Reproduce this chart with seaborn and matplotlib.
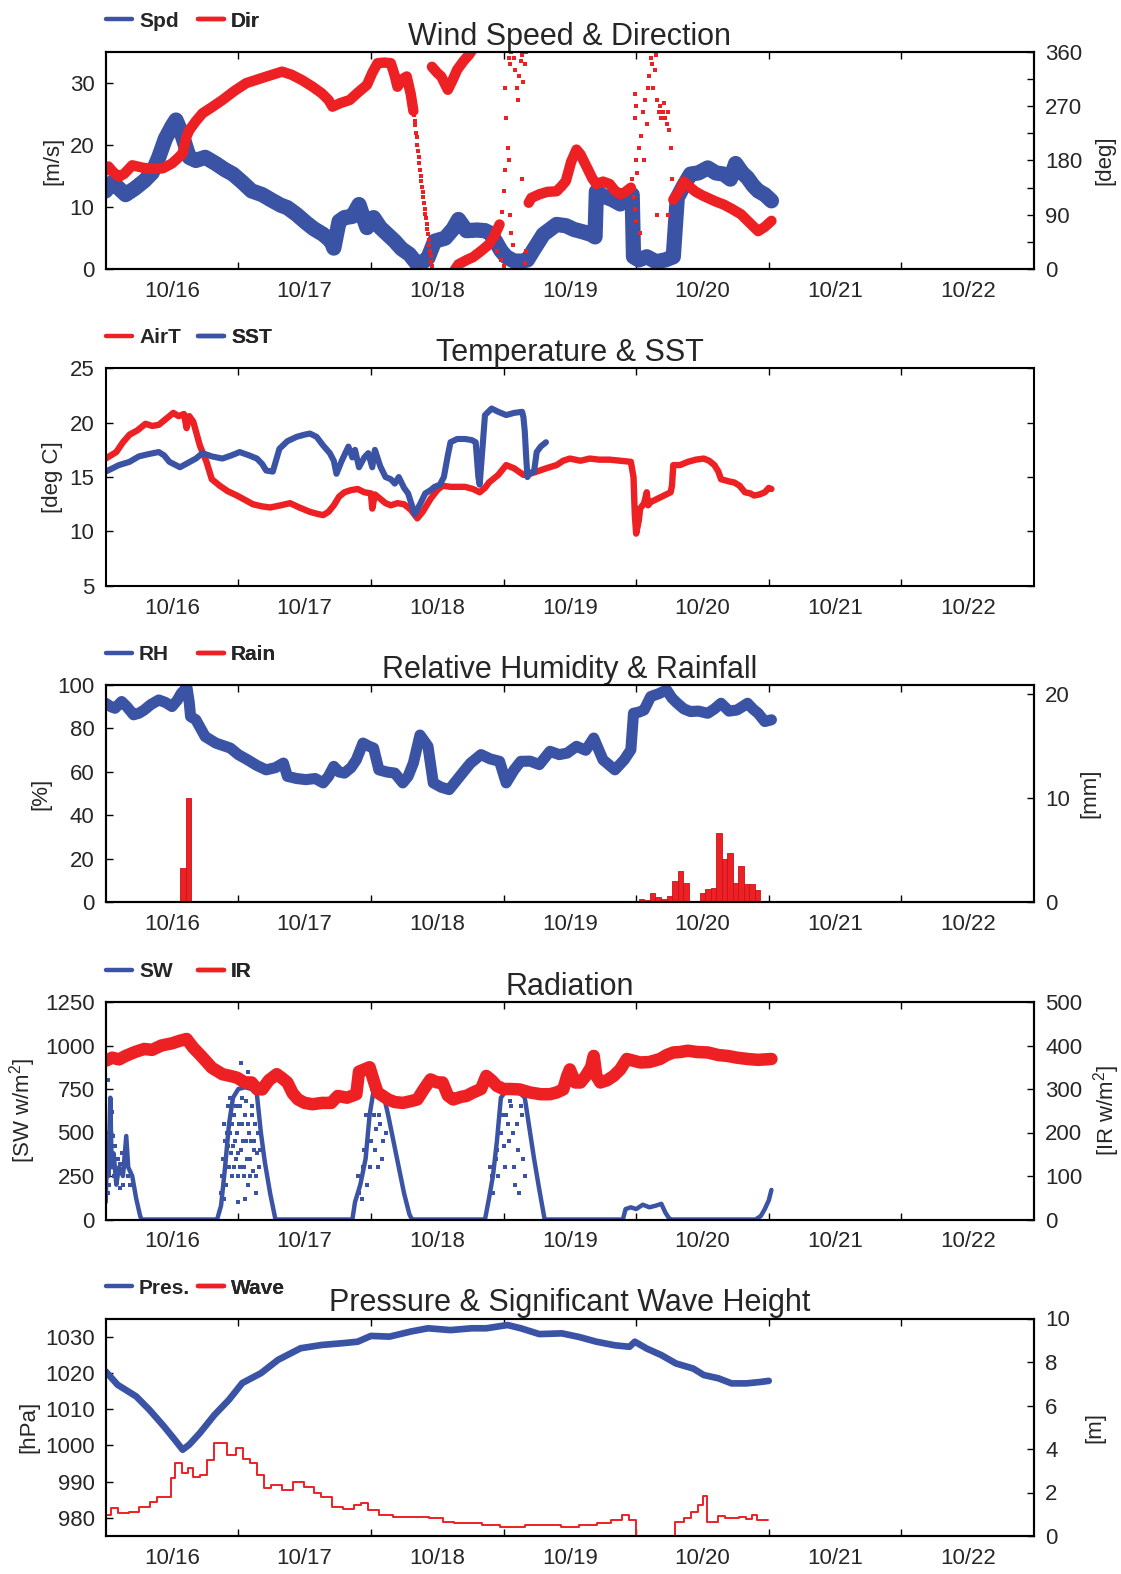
import numpy as np
import pandas as pd
import matplotlib
matplotlib.use("Agg")
import matplotlib.pyplot as plt
import seaborn as sns
from matplotlib.lines import Line2D

nan = np.nan

# ---------------- data ----------------
day_labels = ["10/16", "10/17", "10/18", "10/19", "10/20", "10/21", "10/22"]

# Panel 1: wind speed (m/s) and direction (deg); x = days from left edge
spd_day = [0.00, 0.05, 0.10, 0.15, 0.22, 0.29, 0.35, 0.40, 0.45, 0.50,
           0.53, 0.57, 0.60, 0.63, 0.68, 0.75, 0.83, 0.90, 0.96, 1.03,
           1.10, 1.18, 1.26, 1.32, 1.37, 1.44, 1.51, 1.57, 1.64, 1.70,
           1.72, 1.76, 1.80, 1.86, 1.91, 1.94, 1.97, 2.02, 2.07, 2.13,
           2.18, 2.23, 2.29, 2.35, 2.40, 2.43, 2.48, 2.56, 2.62, 2.66,
           2.72, 2.80, 2.86, 2.90, 2.94, 2.98, 3.02, 3.08, 3.14, 3.18,
           3.22, 3.30, 3.40, 3.47, 3.53, 3.60, 3.66, 3.69, 3.70, 3.75,
           3.82, 3.88, 3.93, 3.97, 3.98, 4.02, 4.08, 4.15, 4.22, 4.28,
           4.31, 4.36, 4.41, 4.47, 4.54, 4.60, 4.66, 4.71, 4.75, 4.80,
           4.84, 4.88, 4.92, 4.97, 5.02]
spd_ms = [12.6, 14, 13, 12, 13, 14.2, 15.5, 18, 21, 23,
          24, 22, 20, 18, 17.5, 18, 17, 16, 15.3, 14,
          12.6, 12, 11, 10.3, 9.9, 8.8, 7.5, 6.5, 5.6, 4.5,
          3.4, 7.7, 8.3, 8.5, 10.4, 8.5, 6.7, 8.3, 6.7, 5.5,
          4.5, 3.3, 2.4, 0.8, 1.3, 1.8, 4.5, 5.0, 6.5, 8.0,
          6.2, 6.3, 6.2, 5.8, 4.5, 3.0, 2.0, 1.3, 1.3, 1.5,
          2.9, 5.6, 7.2, 7.0, 6.4, 6.0, 5.6, 5.2, 12.5, 11.8,
          11.2, 10.5, 11.5, 12, 2, 1.5, 2, 1.2, 1.5, 2,
          11.5, 13.5, 15.3, 15.5, 16.3, 15.5, 15.3, 14.5, 17.0, 15.5,
          14.7, 13.5, 12.6, 12.0, 11.0]

# direction, continuous segments separated by nan (wrap-around at 0/360)
dir_day = [0.00, 0.02, 0.06, 0.10, 0.14, 0.20, 0.28, 0.36, 0.43, 0.50,
           0.55, 0.58, 0.61, 0.63, 0.68, 0.73, 0.80, 0.88, 0.97, 1.06,
           1.20, 1.33, 1.40, 1.48, 1.56, 1.63, 1.68, 1.71, 1.77, 1.84,
           1.90, 1.97, 2.01, 2.05, 2.10, 2.15, 2.18, 2.20, 2.24, 2.27,
           2.30, 2.32, nan,
           2.46, 2.50, 2.53, 2.58, 2.62, 2.65, 2.70, 2.74, 2.78, nan,
           2.62, 2.66, 2.72, 2.77, 2.83, 2.89, 2.93, 2.97, nan,
           3.19, 3.21, 3.27, 3.33, 3.40, 3.44, 3.47, 3.51, 3.55, 3.58,
           3.63, 3.67, 3.70, 3.75, 3.80, 3.84, 3.88, 3.92, 3.96, nan,
           4.28, 4.33, 4.36, 4.41, 4.45, 4.50, 4.54, 4.60, 4.66, 4.72,
           4.79, 4.85, 4.92, 4.97, 5.02]
dir_deg = [163, 170, 160, 153, 158, 172, 168, 166, 167, 175,
           185, 192, 220, 230, 245, 258, 268, 280, 295, 308,
           318, 327, 322, 313, 302, 291, 280, 269, 275, 280,
           292, 305, 325, 341, 342, 341, 320, 302, 315, 319,
           290, 262, nan,
           335, 325, 319, 297, 315, 330, 345, 355, 368, nan,
           -5, 8, 15, 20, 30, 41, 55, 74, nan,
           110, 118, 124, 128, 129, 138, 146, 178, 198, 190,
           168, 150, 141, 145, 141, 130, 124, 128, 135, nan,
           115, 130, 145, 135, 128, 122, 118, 112, 107, 100,
           91, 78, 63, 70, 80]
# isolated scattered direction samples
dir_sc_day = [2.325, 2.33, 2.335, 2.34, 2.345, 2.35, 2.355, 2.36, 2.365, 2.37,
              2.375, 2.38, 2.385, 2.39, 2.395, 2.40, 2.405, 2.41, 2.415, 2.42,
              2.425, 2.43, 2.435, 2.44, 2.445, 2.45, 2.455, 2.46,
              2.95, 2.98, 3.00, 3.01, 3.02, 3.03, 3.04, 3.04, 3.05, 3.05,
              3.06, 3.06, 3.07, 3.08, 3.09, 3.10, 3.11, 3.12, 3.13, 3.14,
              3.14, 3.15, 3.16, 3.16, 3.17, 3.17, 2.99, 3.00, 3.01,
              3.97, 3.98, 3.99, 3.99, 3.99, 4.00, 4.00, 4.00, 4.01, 4.02,
              4.03, 4.04, 4.05, 4.06, 4.07, 4.08, 4.09, 4.10, 4.11, 4.12,
              4.13, 4.14, 4.15, 4.16, 4.16, 4.17, 4.18, 4.19, 4.20, 4.21,
              4.22, 4.23, 4.24, 4.24, 4.25, 4.26, 4.27]
dir_sc_deg = [255, 245, 238, 226, 218, 205, 196, 185, 175, 164,
              155, 146, 136, 128, 120, 110, 100, 92, 84, 75,
              66, 58, 48, 40, 30, 22, 12, 5,
              30, 15, 5, 300, 250, 200, 180, 350, 90, 340,
              60, 360, 40, 350, 330, 300, 280, 320, 345, 355,
              150, 310, 340, 10, 360, 30, 95, 130, 165,
              150, 120, 100, 290, 250, 80, 180, 270, 160, 200,
              60, 220, 260, 180, 280, 240, 300, 320, 350, 340,
              300, 330, 355, 280, 90, 260, 270, 250, 260, 275,
              250, 240, 260, 90, 230, 200, 150]

# Panel 2: air temperature and SST (deg C)
airt_day = [0.00, 0.04, 0.08, 0.13, 0.18, 0.24, 0.30, 0.35, 0.40, 0.45,
            0.51, 0.55, 0.59, 0.61, 0.63, 0.66, 0.71, 0.76, 0.80, 0.86,
            0.92, 0.99, 1.05, 1.11, 1.18, 1.24, 1.32, 1.39, 1.46, 1.54,
            1.60, 1.64, 1.68, 1.72, 1.76, 1.80, 1.85, 1.90, 1.95, 2.00,
            2.01, 2.03, 2.07, 2.11, 2.15, 2.20, 2.25, 2.30, 2.35, 2.39,
            2.45, 2.50, 2.54, 2.60, 2.65, 2.71, 2.77, 2.82, 2.86, 2.89,
            2.96, 3.02, 3.08, 3.15, 3.20, 3.25, 3.32, 3.40, 3.45, 3.50,
            3.58, 3.65, 3.72, 3.80, 3.88, 3.96, 3.98, 3.99, 4.00, 4.02,
            4.03, 4.06, 4.08, 4.09, 4.11, 4.16, 4.21, 4.26, 4.27, 4.28,
            4.33, 4.39, 4.45, 4.51, 4.55, 4.59, 4.62, 4.64, 4.70, 4.74,
            4.78, 4.82, 4.86, 4.89, 4.93, 4.97, 5.00, 5.02]
airt_c = [16.7, 17.0, 17.3, 18.2, 18.9, 19.3, 19.9, 19.7, 19.8, 20.3,
          20.9, 20.6, 20.8, 19.5, 20.6, 20.1, 17.9, 16.4, 14.8, 14.2,
          13.7, 13.3, 12.9, 12.5, 12.3, 12.2, 12.4, 12.6, 12.2, 11.8,
          11.6, 11.5, 11.8, 12.4, 13.2, 13.6, 13.8, 13.9, 13.6, 13.5,
          12.1, 13.4, 13.0, 12.6, 12.4, 12.6, 12.5, 12.0, 11.2, 11.8,
          13.0, 13.8, 14.2, 14.1, 14.1, 14.1, 13.9, 13.6, 14.0, 14.5,
          15.2, 16.1, 15.8, 15.2, 15.3, 15.5, 15.8, 16.1, 16.5, 16.7,
          16.5, 16.7, 16.6, 16.6, 16.5, 16.4, 15.0, 11.5, 9.8, 11.0,
          12.1, 12.6, 13.6, 12.4, 12.7, 13.0, 13.3, 13.6, 14.2, 16.1,
          16.1, 16.4, 16.6, 16.7, 16.5, 16.1, 15.5, 14.8, 14.6, 14.5,
          14.2, 13.6, 13.5, 13.3, 13.4, 13.6, 14.0, 13.9]
sst_day = [0.00, 0.05, 0.10, 0.18, 0.25, 0.32, 0.40, 0.44, 0.48, 0.56,
           0.62, 0.68, 0.73, 0.80, 0.88, 0.95, 1.01, 1.08, 1.14, 1.18,
           1.21, 1.26, 1.31, 1.37, 1.44, 1.50, 1.54, 1.59, 1.64, 1.69,
           1.72, 1.74, 1.78, 1.83, 1.86, 1.88, 1.91, 1.95, 1.98, 2.01,
           2.03, 2.07, 2.11, 2.15, 2.18, 2.21, 2.25, 2.28, 2.33, 2.37,
           2.41, 2.45, 2.48, 2.52, 2.55, 2.58, 2.60, 2.65, 2.71, 2.76,
           2.79, 2.81, 2.82, 2.84, 2.86, 2.91, 2.96, 3.02, 3.08, 3.14,
           3.15, 3.16, 3.17, 3.18, 3.20, 3.23, 3.25, 3.28, 3.32]
sst_c = [15.5, 15.8, 16.1, 16.4, 16.9, 17.1, 17.3, 17.0, 16.4, 15.9,
         16.3, 16.7, 17.2, 16.9, 16.7, 17.0, 17.3, 17.0, 16.7, 16.2,
         15.6, 15.5, 17.6, 18.3, 18.7, 18.9, 19.0, 18.7, 17.9, 17.2,
         16.5, 15.3, 16.5, 17.8, 16.8, 17.5, 15.9, 16.8, 17.2, 15.9,
         17.5, 16.0, 15.0, 14.8, 14.4, 15.0, 14.0, 13.5, 11.6, 12.5,
         13.5, 13.8, 14.1, 14.3, 15.0, 17.0, 18.2, 18.5, 18.5, 18.4,
         18.2, 15.0, 14.3, 17.5, 20.7, 21.3, 21.0, 20.7, 20.9, 21.0,
         20.5, 19.2, 17.0, 15.0, 15.4, 15.5, 17.3, 17.8, 18.2]

# Panel 3: relative humidity (%) and hourly rainfall (mm)
rh_day = [0.00, 0.04, 0.07, 0.12, 0.16, 0.21, 0.25, 0.29, 0.34, 0.40,
          0.45, 0.50, 0.54, 0.57, 0.60, 0.61, 0.63, 0.64, 0.68, 0.75,
          0.83, 0.94, 1.00, 1.07, 1.14, 1.21, 1.28, 1.34, 1.37, 1.44,
          1.51, 1.58, 1.64, 1.68, 1.72, 1.76, 1.80, 1.85, 1.89, 1.94,
          1.98, 2.02, 2.06, 2.12, 2.18, 2.24, 2.28, 2.32, 2.37, 2.43,
          2.47, 2.53, 2.59, 2.67, 2.75, 2.83, 2.90, 2.97, 3.02, 3.08,
          3.13, 3.20, 3.27, 3.35, 3.42, 3.48, 3.55, 3.62, 3.68, 3.75,
          3.84, 3.91, 3.96, 3.98, 4.02, 4.06, 4.11, 4.17, 4.23, 4.27,
          4.31, 4.36, 4.41, 4.47, 4.54, 4.59, 4.64, 4.70, 4.76, 4.80,
          4.84, 4.88, 4.92, 4.97, 5.02]
rh_pct = [91.6, 90, 89.3, 92.4, 90, 86.3, 87, 88.5, 91, 93.1,
          92, 90.1, 93, 96.2, 98, 100, 92, 85.5, 84, 76.3,
          73.3, 71, 68, 65.6, 63, 61, 62, 64.1, 58, 57,
          56.5, 57, 55, 58, 62.6, 60, 59.5, 62, 65.6, 73.3,
          72, 71, 61, 60, 59.5, 55, 58, 64.1, 77, 71.8,
          55, 53, 51.9, 58, 64, 68, 66, 64.9, 55, 61,
          64.9, 65, 63.4, 69.5, 68, 68.7, 71.8, 70, 75.6, 65.6,
          61, 65.6, 70.2, 87, 87.5, 88.5, 94.7, 96, 97.7, 94,
          91.6, 89, 87.8, 88, 87, 89, 91.6, 88, 88.5, 90,
          91.6, 89, 87, 83.2, 84]
rain_day = [0.583, 0.625, 4.042, 4.083, 4.125, 4.167, 4.208, 4.250, 4.292, 4.333,
            4.375, 4.500, 4.542, 4.583, 4.625, 4.667, 4.708, 4.750, 4.792, 4.833,
            4.875, 4.917]
rain_mm = [3.3, 10.0, 0.3, 0.2, 0.9, 0.5, 0.3, 0.6, 2.1, 3.0,
           1.9, 0.9, 1.3, 1.4, 6.7, 4.2, 4.8, 1.9, 3.5, 1.8,
           1.8, 1.2]

# Panel 4: shortwave (W/m2) and infrared (W/m2)
sw_day = [0.00, 0.01, 0.02, 0.035, 0.045, 0.06, 0.08, 0.10, 0.13, 0.155,
          0.17, 0.20, 0.23, 0.26, 0.27, 0.84, 0.87, 0.90, 0.93, 0.96,
          1.00, 1.05, 1.10, 1.14, 1.17, 1.20, 1.24, 1.28, 1.86, 1.88,
          1.92, 1.96, 1.99, 2.02, 2.06, 2.10, 2.13, 2.17, 2.21, 2.25,
          2.29, 2.31, 2.86, 2.89, 2.92, 2.95, 2.98, 3.02, 3.07, 3.12,
          3.16, 3.19, 3.23, 3.27, 3.31, 3.90, 3.92, 3.96, 4.00, 4.05,
          4.10, 4.15, 4.19, 4.22, 4.25, 4.27, 4.90, 4.94, 4.97, 5.00,
          5.02]
sw_wm2 = [100, 380, 250, 700, 300, 380, 200, 300, 250, 480,
          300, 250, 120, 20, 0, 0, 80, 300, 550, 700,
          750, 760, 750, 720, 500, 330, 150, 0, 0, 100,
          200, 350, 600, 740, 720, 700, 600, 450, 300, 150,
          30, 0, 0, 120, 250, 450, 700, 740, 740, 730,
          700, 550, 350, 170, 0, 0, 60, 70, 60, 85,
          70, 80, 90, 40, 5, 0, 0, 20, 60, 110,
          170]
sw_sc_day = [0.015, 0.02, 0.025, 0.03, 0.04, 0.05, 0.06, 0.07, 0.09, 0.11,
             0.12, 0.14, 0.16, 0.18, 0.88, 0.89, 0.90, 0.91, 0.92, 0.93,
             0.94, 0.95, 0.95, 0.96, 0.97, 0.98, 0.99, 1.00, 1.00, 1.01,
             1.02, 1.02, 1.03, 1.04, 1.05, 1.05, 1.06, 1.07, 1.07, 1.08,
             1.09, 1.10, 1.11, 1.12, 1.13, 1.14, 1.90, 1.93, 1.95, 1.96,
             1.97, 1.99, 2.00, 2.01, 2.02, 2.04, 2.05, 2.07, 2.09, 2.90,
             2.92, 2.94, 2.96, 2.98, 3.00, 3.02, 3.04, 3.05, 3.06, 3.08,
             3.09, 3.10, 3.12, 3.14, 3.16,
             0.87, 0.885, 0.895, 0.905, 0.915, 0.925, 0.935, 0.945, 0.955, 0.965,
             0.975, 0.985, 0.995, 1.005, 1.015, 1.025, 1.035, 1.045, 1.055, 1.065,
             1.075, 1.085, 1.095, 1.105, 1.115, 1.125, 1.135, 1.145, 1.155, 1.165,
             1.91, 1.94, 1.98, 2.00, 2.03, 2.06, 2.08, 2.11,
             2.91, 2.95, 2.99, 3.01, 3.03, 3.07, 3.11, 3.13, 3.15,
             0.01, 0.035, 0.055, 0.065, 0.085, 0.105, 0.13, 0.15, 0.165]
sw_sc_wm2 = [150, 800, 200, 550, 450, 620, 250, 420, 350, 180,
             380, 300, 350, 200, 250, 120, 450, 200, 650, 300,
             500, 250, 800, 420, 600, 350, 500, 250, 100, 650,
             400, 900, 550, 300, 600, 120, 450, 200, 850, 500,
             350, 600, 280, 450, 150, 380, 250, 120, 400, 600,
             200, 300, 450, 750, 600, 520, 300, 550, 450, 300,
             150, 350, 250, 500, 420, 600, 450, 680, 650, 300,
             200, 550, 150, 600, 250,
             150, 350, 550, 300, 500, 420, 700, 380, 550, 300,
             450, 650, 380, 550, 300, 700, 450, 250, 680, 350,
             550, 250, 450, 650, 400, 550, 250, 500, 300, 400,
             150, 300, 450, 650, 400, 600, 350, 500,
             250, 400, 600, 300, 550, 500, 400, 650, 350,
             500, 350, 480, 300, 250, 320, 200, 420, 250]
ir_day = [0.00, 0.05, 0.10, 0.15, 0.22, 0.29, 0.35, 0.42, 0.50, 0.56,
          0.61, 0.66, 0.72, 0.80, 0.88, 0.94, 0.99, 1.05, 1.10, 1.14,
          1.18, 1.23, 1.29, 1.33, 1.37, 1.41, 1.45, 1.50, 1.56, 1.63,
          1.70, 1.75, 1.82, 1.89, 1.91, 1.95, 1.99, 2.02, 2.05, 2.10,
          2.13, 2.18, 2.24, 2.30, 2.35, 2.40, 2.45, 2.50, 2.54, 2.58,
          2.62, 2.68, 2.72, 2.77, 2.83, 2.87, 2.91, 2.95, 3.00, 3.05,
          3.12, 3.20, 3.28, 3.35, 3.40, 3.45, 3.48, 3.50, 3.54, 3.58,
          3.62, 3.66, 3.68, 3.70, 3.73, 3.78, 3.83, 3.88, 3.93, 3.98,
          4.03, 4.10, 4.18, 4.23, 4.28, 4.33, 4.39, 4.46, 4.54, 4.62,
          4.69, 4.76, 4.84, 4.92, 5.02]
ir_wm2 = [365, 372, 368, 376, 385, 392, 390, 400, 405, 411,
          415, 395, 376, 349, 334, 330, 326, 315, 315, 300,
          299, 320, 334, 325, 315, 290, 276, 268, 265, 268,
          268, 284, 280, 288, 340, 345, 350, 320, 292, 282,
          276, 270, 268, 272, 276, 300, 322, 315, 315, 285,
          276, 282, 284, 292, 300, 330, 320, 307, 300, 300,
          299, 292, 288, 288, 292, 299, 330, 345, 315, 315,
          330, 350, 376, 330, 315, 320, 330, 345, 369, 365,
          361, 362, 369, 378, 384, 385, 388, 385, 384, 378,
          376, 372, 369, 367, 369]

# Panel 5: pressure (hPa) and significant wave height (m)
pres_day = [0.00, 0.09, 0.23, 0.33, 0.44, 0.52, 0.58, 0.63, 0.71, 0.82,
            0.93, 1.03, 1.17, 1.30, 1.47, 1.63, 1.79, 1.90, 2.00, 2.14,
            2.30, 2.43, 2.60, 2.76, 2.87, 3.03, 3.13, 3.27, 3.44, 3.57,
            3.70, 3.84, 3.95, 3.99, 4.08, 4.19, 4.30, 4.43, 4.51, 4.62,
            4.72, 4.83, 4.94, 5.00]
pres_hpa = [1020.4, 1016.7, 1013.5, 1009.8, 1005.2, 1001.6, 998.8, 1000.2, 1003.4, 1008.4,
            1012.6, 1017.2, 1019.9, 1023.6, 1026.8, 1027.7, 1028.2, 1028.6, 1030.2, 1030.0,
            1031.4, 1032.3, 1031.8, 1032.3, 1032.3, 1033.2, 1032.3, 1030.7, 1030.9, 1029.9,
            1028.6, 1027.6, 1027.2, 1028.6, 1026.7, 1024.9, 1022.6, 1021.2, 1019.4, 1018.5,
            1017.1, 1017.1, 1017.5, 1017.8]
wave_day = [0.000, 0.038, 0.092, 0.172, 0.253, 0.334, 0.388, 0.496, 0.522, 0.576,
            0.617, 0.657, 0.711, 0.765, 0.819, 0.913, 0.980, 1.034, 1.088, 1.142,
            1.196, 1.250, 1.330, 1.411, 1.492, 1.573, 1.627, 1.708, 1.788, 1.869,
            1.923, 1.977, 2.058, 2.165, 2.300, 2.435, 2.542, 2.623, 2.839, 2.973,
            3.162, 3.436, 3.570, 3.705, 3.812, 3.893, 3.946, 4.000, 4.290, 4.362,
            4.416, 4.470, 4.505, 4.537, 4.617, 4.671, 4.779, 4.832, 4.872, 4.913,
            4.993]
wave_m = [0.96, 1.27, 1.04, 1.12, 1.35, 1.58, 1.81, 2.65, 3.37, 2.88,
          3.11, 2.73, 2.80, 3.49, 4.29, 3.72, 4.03, 3.52, 3.34, 2.80,
          2.19, 2.34, 2.11, 2.47, 2.27, 1.96, 1.81, 1.35, 1.23, 1.42,
          1.50, 1.19, 0.96, 0.89, 0.86, 0.81, 0.66, 0.61, 0.51, 0.43,
          0.51, 0.43, 0.50, 0.58, 0.74, 0.96, 0.74, 0.00, 0.66, 0.81,
          1.12, 1.42, 1.84, 0.66, 0.92, 0.84, 0.89, 0.77, 0.96, 0.74,
          0.74]

# ---------------- style ----------------
sns.set_theme(style="ticks")
plt.rcParams["font.family"] = ["Liberation Sans", "DejaVu Sans"]
plt.rcParams["mathtext.fontset"] = "custom"
plt.rcParams["mathtext.rm"] = "Liberation Sans"
plt.rcParams["mathtext.it"] = "Liberation Sans:italic"

BLUE = "#3a53a4"
RED = "#ed2024"
FS = 16

fig = plt.figure(figsize=(11.21, 15.74), dpi=100)
FW, FH = 1121.0, 1574.0
L = 105.7 / FW
W = (1034.0 - 105.7) / FW
AH = 217.5
tops = [51.7, 368.3, 685.0, 1002.0, 1318.5]
axes = [fig.add_axes([L, 1 - (t + AH) / FH, W, AH / FH]) for t in tops]


def style_main(ax, ylim, yticks, ylabel, lab_x, mirror=False):
    ax.set_xlim(0, 7)
    ax.set_ylim(*ylim)
    ax.set_xticks(range(1, 7))
    ax.set_xticklabels([])
    ax.set_xticks([i + 0.5 for i in range(7)], labels=day_labels, minor=True)
    ax.tick_params(axis="x", which="major", direction="in", length=5, width=1,
                   top=True, bottom=True, labelbottom=False, color="black")
    ax.tick_params(axis="x", which="minor", length=0, labelsize=FS, pad=8.5,
                   bottom=True, top=False)
    ax.set_yticks(yticks)
    ax.tick_params(axis="y", which="both", direction="in", length=5, width=1,
                   labelsize=FS, pad=8, left=True, right=mirror, color="black")
    ax.set_xlabel("")
    ax.set_ylabel(ylabel, fontsize=FS)
    ax.yaxis.set_label_coords(lab_x, 0.5)
    for s in ax.spines.values():
        s.set_visible(True)
        s.set_color("black")
        s.set_linewidth(1.5)


def style_twin(ax2, ylim, yticks, yticklabels, ylabel, lab_x):
    ax2.set_xlim(0, 7)
    ax2.set_ylim(*ylim)
    ax2.set_yticks(yticks)
    ax2.set_yticklabels(yticklabels)
    ax2.tick_params(axis="y", direction="in", length=5, width=1, labelsize=FS,
                    pad=8, right=True, left=False, labelright=True, color="black")
    ax2.set_xlabel("")
    ax2.set_ylabel(ylabel, fontsize=FS, rotation=90)
    ax2.yaxis.set_label_coords(lab_x, 0.5)
    for s in ax2.spines.values():
        s.set_visible(True)
        s.set_color("black")
        s.set_linewidth(1.5)


def legend_pair(ax, lab1, c1, lab2, c2):
    for lab, c, x in ((lab1, c1, 0.0), (lab2, c2, 0.099)):
        h = Line2D([], [], color=c, lw=3.2)
        leg = ax.legend([h], [lab], loc="center left", bbox_to_anchor=(x, 1.14),
                        frameon=False, prop={"weight": "bold", "size": 15},
                        handlelength=1.25, handletextpad=0.35, borderpad=0,
                        borderaxespad=0)
        ax.add_artist(leg)


def title(ax, text):
    ax.set_title(text, fontsize=22, pad=5)


round_kw = dict(solid_joinstyle="round", solid_capstyle="round")

# ---- Panel 1: Wind ----
ax = axes[0]
sns.lineplot(x=spd_day, y=spd_ms, color=BLUE, lw=11, estimator=None, sort=False,
             ax=ax, legend=False, **round_kw)
ax2 = ax.twinx()
ddf = pd.DataFrame({"day": dir_day, "deg": dir_deg})
ddf["seg"] = ddf["deg"].isna().cumsum()
ddf = ddf.dropna()
sns.lineplot(data=ddf, x="day", y="deg", units="seg", estimator=None, sort=False,
             color=RED, lw=7.5, ax=ax2, legend=False, **round_kw)
sns.scatterplot(x=dir_sc_day, y=dir_sc_deg, color=RED, s=12, marker="s",
                linewidth=0, ax=ax2, legend=False)
style_main(ax, (0, 35), [0, 10, 20, 30], "[m/s]", -0.046)
style_twin(ax2, (0, 360), list(range(0, 361, 45)),
           ["0", "", "90", "", "180", "", "270", "", "360"], "[deg]", 1.065)
title(ax, "Wind Speed & Direction")
legend_pair(ax, "Spd", BLUE, "Dir", RED)

# ---- Panel 2: Temperature ----
ax = axes[1]
sns.lineplot(x=airt_day, y=airt_c, color=RED, lw=4.6, estimator=None, sort=False,
             ax=ax, legend=False, **round_kw)
sns.lineplot(x=sst_day, y=sst_c, color=BLUE, lw=4.4, estimator=None, sort=False,
             ax=ax, legend=False, **round_kw)
style_main(ax, (5, 25), [5, 10, 15, 20, 25], "[deg C]", -0.046, mirror=True)
title(ax, "Temperature & SST")
legend_pair(ax, "AirT", RED, "SST", BLUE)

# ---- Panel 3: RH & Rain ----
ax = axes[2]
sns.lineplot(x=rh_day, y=rh_pct, color=BLUE, lw=8, estimator=None, sort=False,
             ax=ax, legend=False, **round_kw)
ax2 = ax.twinx()
sns.histplot(x=rain_day, weights=rain_mm, binwidth=1 / 24,
             binrange=(-1 / 48, 5 + 1 / 48), color=RED, alpha=1,
             edgecolor="#c4141b", linewidth=0.6, ax=ax2, legend=False)
style_main(ax, (0, 100), [0, 20, 40, 60, 80, 100], "[%]", -0.058)
style_twin(ax2, (0, 20.9), [0, 10, 20], ["0", "10", "20"], "[mm]", 1.0485)
title(ax, "Relative Humidity & Rainfall")
legend_pair(ax, "RH", BLUE, "Rain", RED)

# ---- Panel 4: Radiation ----
ax = axes[3]
sns.lineplot(x=sw_day, y=sw_wm2, color=BLUE, lw=3.2, estimator=None, sort=False,
             ax=ax, legend=False, **round_kw)
sns.scatterplot(x=sw_sc_day, y=sw_sc_wm2, color=BLUE, s=8, marker="s",
                linewidth=0, ax=ax, legend=False)
ax2 = ax.twinx()
sns.lineplot(x=ir_day, y=ir_wm2, color=RED, lw=9, estimator=None, sort=False,
             ax=ax2, legend=False, **round_kw)
style_main(ax, (0, 1250), [0, 250, 500, 750, 1000, 1250], "[SW w/m$^2$]", -0.073)
style_twin(ax2, (0, 500), [0, 100, 200, 300, 400, 500],
           ["0", "100", "200", "300", "400", "500"], "[IR w/m$^2$]", 1.061)
title(ax, "Radiation")
legend_pair(ax, "SW", BLUE, "IR", RED)

# ---- Panel 5: Pressure & Wave ----
ax = axes[4]
sns.lineplot(x=pres_day, y=pres_hpa, color=BLUE, lw=4.8, estimator=None, sort=False,
             ax=ax, legend=False, **round_kw)
ax2 = ax.twinx()
sns.lineplot(x=wave_day, y=wave_m, color=RED, lw=1.4, estimator=None, sort=False,
             drawstyle="steps-post", ax=ax2, legend=False)
style_main(ax, (975, 1035), [980, 990, 1000, 1010, 1020, 1030], "[hPa]", -0.071)
style_twin(ax2, (0, 10), [0, 2, 4, 6, 8, 10], ["0", "2", "4", "6", "8", "10"], "[m]", 1.054)
title(ax, "Pressure & Significant Wave Height")
legend_pair(ax, "Pres.", BLUE, "Wave", RED)

fig.savefig("out.png", dpi=100)
